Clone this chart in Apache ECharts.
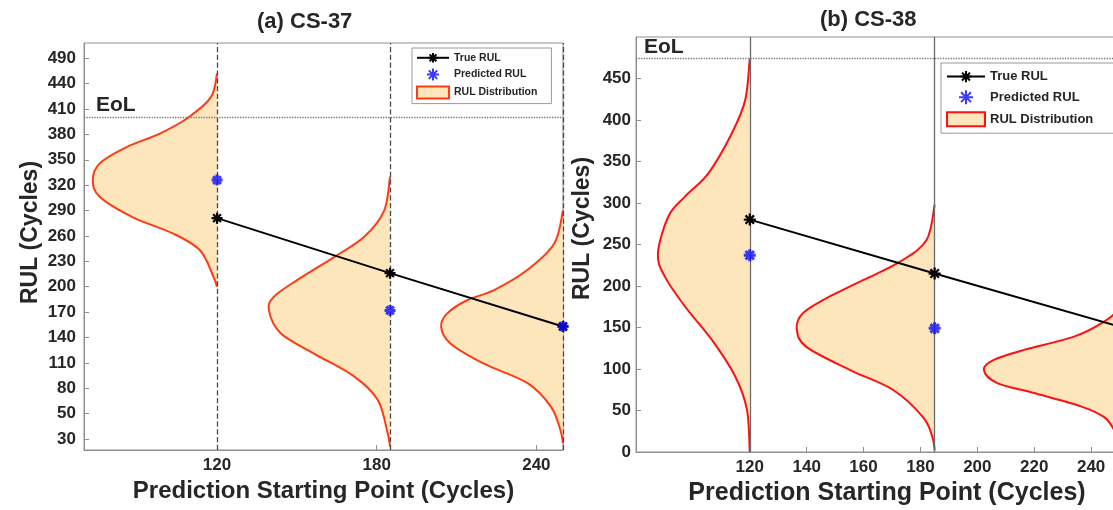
<!DOCTYPE html>
<html>
<head>
<meta charset="utf-8">
<script src="https://cdn.jsdelivr.net/npm/echarts@6/dist/echarts.min.js"></script>
<style>
html,body{margin:0;padding:0;background:#fff;}
#chart{width:1113px;height:510px;}
</style>
</head>
<body>
<div id="chart"></div>
<script>
// ---------- Data: panel (a) CS-37 ----------
const aStarts = [120, 185, 250];
const aTrueRUL = [281, 216, 153];
const aPredRUL = [326, 172, 153];
const aEoL = 400;
// RUL distributions (RUL value, half-violin width in cycles to the left of the start line)
const aDistRUL = [
  [452, 424, 400, 381, 365, 346, 326, 306, 282, 263, 243, 212, 200],
  [330, 290, 259, 235, 208, 188, 172, 145, 121, 94, 66, 27, 11],
  [290, 251, 220, 196, 184, 168.5, 152.6, 133, 109, 86, 58, 31, 15]
];
const aDistWidth = [
  [0, 2.3, 10.8, 21.5, 34, 44, 46.7, 44, 31.6, 16.6, 6.4, 1.4, 0],
  [0, 2.2, 9.7, 21, 34.8, 43.7, 45.5, 41.1, 28.6, 13.5, 4.6, 0.9, 0],
  [0, 3.3, 13.3, 25.9, 36, 43.5, 45.8, 42.3, 29.7, 13.3, 4.5, 1, 0]
];
const aXTicks = [120, 180, 240];
const aYTickValues = [20, 50, 80, 110, 140, 170, 200, 230, 260, 290, 320, 350, 380, 410, 440, 470];
const aYTickLabels = ['30', '50', '80', '110', '140', '170', '200', '230', '260', '290', '320', '350', '380', '410', '440', '490'];

// ---------- Data: panel (b) CS-38 ----------
const bStarts = [120, 185, 250];
const bTrueRUL = [280, 215, 151];
const bPredStarts = [120, 185];
const bPredRUL = [237, 149];
const bEoL = 475;
const bDistRUL = [
  [474, 424, 384, 336, 308, 284, 239, 211, 175, 135, 91, 51, 0],
  [298, 255, 229, 207, 183, 167, 149, 127, 99, 75, 42, 18, 2],
  [186, 170, 157, 139, 123, 111, 99, 83, 71, 55, 42, 27, 12]
];
const bDistWidth = [
  [0, 1.6, 6.3, 14.5, 22.7, 28.6, 32.3, 29.8, 22.7, 13.3, 5.1, 1, 0],
  [0, 2.9, 12.3, 25.2, 39.3, 46.4, 48.5, 45.2, 29.9, 14.7, 4.1, 0.8, 0],
  [0, 1, 5.4, 16, 33.6, 44.2, 47.7, 43, 30.1, 13.6, 5.4, 2, 0]
];
const bXTicks = [120, 140, 160, 180, 200, 220, 240];
const bYTicks = [0, 50, 100, 150, 200, 250, 300, 350, 400, 450];

// ---------- Styling ----------
const FONT = 'Liberation Sans, Arial, sans-serif';
const TXT = '#262626';
const AXIS = '#8f8f8f';
const FILL = '#fde6bb';
const RED_A = '#ff3b14';
const RED_B = '#ff1010';
const BLUE = '#0a0aff';
const STAR = 'path://M0,-10L0,10M-10,0L10,0M-7.07,-7.07L7.07,7.07M-7.07,7.07L7.07,-7.07';

function zip(xs, ys) { return xs.map((x, i) => [x, ys[i]]); }

// Catmull-Rom path through pixel points (rendering only)
function smoothPath(p) {
  const n = p.length;
  let d = 'M' + p[0][0] + ',' + p[0][1];
  for (let i = 0; i < n - 1; i++) {
    const p0 = p[Math.max(0, i - 1)], p1 = p[i], p2 = p[i + 1], p3 = p[Math.min(n - 1, i + 2)];
    const c1 = [p1[0] + (p2[0] - p0[0]) / 6, p1[1] + (p2[1] - p0[1]) / 6];
    const c2 = [p2[0] - (p3[0] - p1[0]) / 6, p2[1] - (p3[1] - p1[1]) / 6];
    d += 'C' + c1[0] + ',' + c1[1] + ',' + c2[0] + ',' + c2[1] + ',' + p2[0] + ',' + p2[1];
  }
  return d;
}

function distRender(starts, ruls, widths, stroke) {
  return function (params, api) {
    const i = params.dataIndex;
    const pts = ruls[i].map((r, k) => api.coord([starts[i] - widths[i][k], r]));
    return {
      type: 'path',
      shape: { pathData: smoothPath(pts) },
      style: { fill: FILL, stroke: stroke, lineWidth: 2 }
    };
  };
}

function vLines(starts, type, color) {
  return starts.map(s => ({ xAxis: s, lineStyle: { type: type, color: color, width: 1.3 } }));
}

const chart = echarts.init(document.getElementById('chart'), null, { renderer: 'canvas' });

const axisLabelStyle = { color: TXT, fontFamily: FONT, fontWeight: 'bold', fontSize: 17 };
const nameStyleBase = { color: TXT, fontFamily: FONT, fontWeight: 'bold' };

chart.setOption({
  animation: false,
  backgroundColor: '#fff',
  title: [
    { text: '(a) CS-37', left: 252, top: 6, textStyle: { color: TXT, fontFamily: FONT, fontWeight: 'bold', fontSize: 22 } },
    { text: '(b) CS-38', left: 815, top: 4, textStyle: { color: TXT, fontFamily: FONT, fontWeight: 'bold', fontSize: 22 } }
  ],
  legend: [
    {
      orient: 'vertical', left: 412, top: 48,
      padding: [4, 14, 4, 4], itemGap: 4, itemWidth: 32, itemHeight: 12,
      borderColor: '#999', borderWidth: 1, backgroundColor: '#fff',
      textStyle: { color: TXT, fontFamily: FONT, fontWeight: 'bold', fontSize: 10.5 },
      data: [
        { name: 'True RUL' },
        { name: 'Predicted RUL' },
        { name: 'RUL Distribution', icon: 'rect', itemStyle: { color: FILL, borderColor: RED_A, borderWidth: 2 } }
      ]
    },
    {
      orient: 'vertical', left: 941, top: 63,
      padding: [7, 30, 6, 5], itemGap: 6, itemWidth: 38, itemHeight: 14,
      borderColor: '#999', borderWidth: 1, backgroundColor: '#fff',
      textStyle: { color: TXT, fontFamily: FONT, fontWeight: 'bold', fontSize: 13 },
      data: [
        { name: 'True RUL' },
        { name: 'Predicted RUL' },
        { name: 'RUL Distribution', icon: 'rect', itemStyle: { color: FILL, borderColor: RED_B, borderWidth: 2 } }
      ]
    }
  ],
  grid: [
    { left: 84, top: 43, width: 479, height: 407, outerBoundsMode: 'none', containLabel: false,
      show: true, borderColor: AXIS, borderWidth: 1, backgroundColor: 'transparent' },
    { left: 636, top: 37, width: 512, height: 415, outerBoundsMode: 'none', containLabel: false,
      show: true, borderColor: AXIS, borderWidth: 1, backgroundColor: 'transparent' }
  ],
  xAxis: [
    {
      gridIndex: 0, type: 'value', min: 70, max: 250,
      name: 'Prediction Starting Point (Cycles)', nameLocation: 'middle', nameGap: 28,
      nameTextStyle: Object.assign({ fontSize: 24 }, nameStyleBase),
      axisLine: { show: true, lineStyle: { color: AXIS } },
      axisTick: { show: true, inside: true, length: 5, lineStyle: { color: AXIS }, customValues: aXTicks },
      axisLabel: Object.assign({ margin: 7, customValues: aXTicks }, axisLabelStyle),
      splitLine: { show: false }
    },
    {
      gridIndex: 1, type: 'value', min: 80, max: 260,
      name: 'Prediction Starting Point (Cycles)', nameLocation: 'middle', nameGap: 28,
      nameTextStyle: Object.assign({ fontSize: 25, padding: [0, 10, 0, 0] }, nameStyleBase),
      axisLine: { show: true, lineStyle: { color: AXIS } },
      axisTick: { show: true, inside: true, length: 5, lineStyle: { color: AXIS }, customValues: bXTicks },
      axisLabel: Object.assign({ margin: 7, customValues: bXTicks }, axisLabelStyle),
      splitLine: { show: false }
    }
  ],
  yAxis: [
    {
      gridIndex: 0, type: 'value', min: 7, max: 488,
      name: 'RUL (Cycles)', nameLocation: 'middle', nameGap: 42,
      nameTextStyle: Object.assign({ fontSize: 23, padding: [0, 0, 0, 28] }, nameStyleBase),
      axisLine: { show: true, lineStyle: { color: AXIS } },
      axisTick: { show: true, inside: true, length: 5, lineStyle: { color: AXIS }, customValues: aYTickValues },
      axisLabel: Object.assign({
        margin: 8, customValues: aYTickValues,
        formatter: v => { const i = aYTickValues.indexOf(v); return i >= 0 ? aYTickLabels[i] : ''; }
      }, axisLabelStyle),
      splitLine: { show: false }
    },
    {
      gridIndex: 1, type: 'value', min: 0, max: 500,
      name: 'RUL (Cycles)', nameLocation: 'middle', nameGap: 42,
      nameTextStyle: Object.assign({ fontSize: 23, padding: [0, 0, 0, 32] }, nameStyleBase),
      axisLine: { show: true, lineStyle: { color: AXIS } },
      axisTick: { show: true, inside: true, length: 5, lineStyle: { color: AXIS }, customValues: bYTicks },
      axisLabel: Object.assign({ margin: 5, customValues: bYTicks }, axisLabelStyle),
      splitLine: { show: false }
    }
  ],
  series: [
    // ----- panel (a) -----
    {
      name: 'RUL Distribution', type: 'custom', xAxisIndex: 0, yAxisIndex: 0, z: 1,
      data: aStarts.map((s, i) => i),
      renderItem: distRender(aStarts, aDistRUL, aDistWidth, RED_A),
      itemStyle: { color: FILL, borderColor: RED_A }
    },
    {
      name: 'True RUL', type: 'line', xAxisIndex: 0, yAxisIndex: 0, z: 4,
      data: zip(aStarts, aTrueRUL),
      symbol: STAR, symbolSize: 11,
      lineStyle: { color: '#000', width: 2 },
      itemStyle: { color: '#000', borderColor: '#000', borderWidth: 2.2 },
      markLine: {
        silent: true, symbol: 'none', z: 3,
        label: { show: false },
        data: vLines(aStarts, 'dashed', '#4a4a4a').concat([{
          yAxis: aEoL, lineStyle: { type: 'dotted', color: '#777', width: 1.3 },
          label: { show: true, formatter: 'EoL', position: 'insideStartTop', distance: [12, 2],
            color: TXT, fontFamily: FONT, fontWeight: 'bold', fontSize: 21 }
        }])
      }
    },
    {
      name: 'Predicted RUL', type: 'scatter', xAxisIndex: 0, yAxisIndex: 0, z: 5,
      data: zip(aStarts, aPredRUL),
      symbol: STAR, symbolSize: 11,
      itemStyle: { color: BLUE, borderColor: BLUE, borderWidth: 3 }
    },
    // ----- panel (b) -----
    {
      name: 'RUL Distribution', type: 'custom', xAxisIndex: 1, yAxisIndex: 1, z: 1,
      data: bStarts.map((s, i) => i),
      renderItem: distRender(bStarts, bDistRUL, bDistWidth, RED_B),
      itemStyle: { color: FILL, borderColor: RED_B }
    },
    {
      name: 'True RUL', type: 'line', xAxisIndex: 1, yAxisIndex: 1, z: 4,
      data: zip(bStarts, bTrueRUL),
      symbol: STAR, symbolSize: 12,
      lineStyle: { color: '#000', width: 2 },
      itemStyle: { color: '#000', borderColor: '#000', borderWidth: 2.2 },
      markLine: {
        silent: true, symbol: 'none', z: 3,
        label: { show: false },
        data: vLines(bStarts, 'solid', '#6a6a6a').concat([{
          yAxis: bEoL, lineStyle: { type: 'dotted', color: '#777', width: 1.3 },
          label: { show: true, formatter: 'EoL', position: 'insideStartTop', distance: [8, 0],
            color: TXT, fontFamily: FONT, fontWeight: 'bold', fontSize: 21 }
        }])
      }
    },
    {
      name: 'Predicted RUL', type: 'scatter', xAxisIndex: 1, yAxisIndex: 1, z: 5,
      data: zip(bPredStarts, bPredRUL),
      symbol: STAR, symbolSize: 12,
      itemStyle: { color: BLUE, borderColor: BLUE, borderWidth: 3 }
    }
  ]
});
</script>
</body>
</html>
